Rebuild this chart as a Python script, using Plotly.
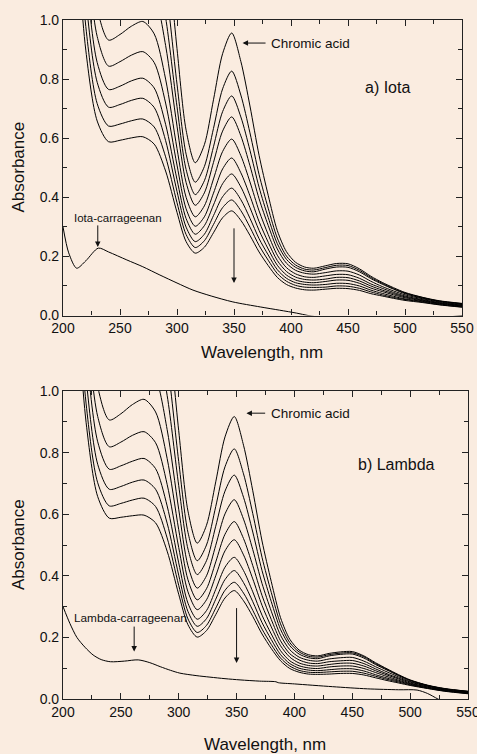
import plotly.graph_objects as go

# Wavelength grid (nm) for the chromic acid series
W = [200, 210, 220, 230, 240, 250, 260, 270, 280, 290, 300, 308, 316, 324, 332, 340, 348,
     356, 364, 372, 380, 388, 396, 404, 412, 420, 430, 440, 450, 460, 470, 480, 490, 500,
     515, 530, 550]

# Panel a) Iota: chromic acid spectra (top = chromic acid alone)
a1 = [4.5, 3.58, 2.32, 1.70, 1.52, 1.55, 1.595, 1.62, 1.551, 1.295, 0.903, 0.627, 0.517, 0.578, 0.730, 0.886, 0.956, 0.860, 0.709, 0.542, 0.407, 0.287, 0.216, 0.180, 0.164, 0.160, 0.168, 0.176, 0.175, 0.158, 0.133, 0.112, 0.094, 0.078, 0.062, 0.050, 0.041]
a2 = [4.0, 3.11, 2.01, 1.48, 1.32, 1.344, 1.38, 1.40, 1.340, 1.120, 0.783, 0.546, 0.451, 0.504, 0.633, 0.767, 0.827, 0.746, 0.618, 0.477, 0.363, 0.262, 0.201, 0.171, 0.157, 0.154, 0.162, 0.170, 0.169, 0.153, 0.129, 0.109, 0.091, 0.076, 0.061, 0.049, 0.040]
a3 = [3.6, 2.81, 1.82, 1.33, 1.19, 1.211, 1.243, 1.26, 1.206, 1.009, 0.707, 0.494, 0.409, 0.456, 0.571, 0.690, 0.743, 0.672, 0.559, 0.434, 0.332, 0.243, 0.190, 0.163, 0.151, 0.148, 0.157, 0.164, 0.163, 0.148, 0.125, 0.106, 0.089, 0.074, 0.059, 0.048, 0.039]
a4 = [3.3, 2.52, 1.63, 1.20, 1.07, 1.091, 1.123, 1.14, 1.092, 0.914, 0.641, 0.450, 0.373, 0.415, 0.518, 0.624, 0.672, 0.608, 0.507, 0.395, 0.305, 0.225, 0.177, 0.153, 0.143, 0.140, 0.145, 0.151, 0.150, 0.137, 0.116, 0.098, 0.083, 0.070, 0.057, 0.046, 0.037]
a5 = [3.0, 2.20, 1.42, 1.04, 0.932, 0.951, 0.979, 0.995, 0.953, 0.800, 0.565, 0.400, 0.334, 0.371, 0.462, 0.555, 0.597, 0.541, 0.452, 0.354, 0.274, 0.204, 0.162, 0.141, 0.131, 0.129, 0.134, 0.139, 0.138, 0.126, 0.107, 0.092, 0.078, 0.066, 0.054, 0.044, 0.035]
a6 = [2.8, 1.99, 1.29, 0.944, 0.844, 0.859, 0.881, 0.893, 0.856, 0.719, 0.509, 0.361, 0.302, 0.334, 0.414, 0.496, 0.533, 0.483, 0.405, 0.318, 0.248, 0.186, 0.149, 0.130, 0.122, 0.120, 0.123, 0.129, 0.128, 0.117, 0.100, 0.086, 0.074, 0.063, 0.052, 0.042, 0.034]
a7 = [2.6, 1.80, 1.17, 0.856, 0.765, 0.776, 0.794, 0.803, 0.770, 0.647, 0.460, 0.328, 0.275, 0.304, 0.374, 0.446, 0.479, 0.435, 0.365, 0.288, 0.225, 0.170, 0.137, 0.120, 0.113, 0.111, 0.115, 0.120, 0.119, 0.109, 0.093, 0.081, 0.070, 0.060, 0.050, 0.041, 0.032]
a8 = [2.4, 1.66, 1.075, 0.789, 0.705, 0.714, 0.728, 0.735, 0.704, 0.592, 0.420, 0.299, 0.250, 0.275, 0.338, 0.402, 0.431, 0.392, 0.329, 0.260, 0.205, 0.155, 0.126, 0.111, 0.105, 0.103, 0.105, 0.109, 0.108, 0.100, 0.086, 0.075, 0.065, 0.056, 0.048, 0.039, 0.031]
a9 = [2.2, 1.51, 0.978, 0.717, 0.641, 0.648, 0.659, 0.665, 0.638, 0.537, 0.382, 0.274, 0.230, 0.253, 0.308, 0.365, 0.391, 0.355, 0.299, 0.237, 0.187, 0.142, 0.116, 0.102, 0.096, 0.095, 0.096, 0.100, 0.099, 0.092, 0.080, 0.070, 0.061, 0.054, 0.046, 0.037, 0.029]
a10 = [2.0, 1.39, 0.898, 0.658, 0.588, 0.593, 0.601, 0.605, 0.580, 0.489, 0.349, 0.250, 0.211, 0.231, 0.280, 0.331, 0.354, 0.322, 0.271, 0.215, 0.169, 0.129, 0.105, 0.093, 0.087, 0.086, 0.089, 0.092, 0.091, 0.085, 0.074, 0.066, 0.058, 0.051, 0.044, 0.036, 0.028]

# Panel b) Lambda
b1 = [4.4, 3.45, 2.23, 1.63, 1.46, 1.487, 1.528, 1.55, 1.484, 1.242, 0.871, 0.610, 0.506, 0.564, 0.705, 0.851, 0.917, 0.824, 0.676, 0.513, 0.381, 0.264, 0.194, 0.159, 0.144, 0.140, 0.148, 0.153, 0.154, 0.140, 0.118, 0.098, 0.079, 0.062, 0.045, 0.034, 0.025]
b2 = [3.9, 3.07, 1.985, 1.455, 1.30, 1.321, 1.353, 1.37, 1.312, 1.098, 0.771, 0.541, 0.449, 0.500, 0.625, 0.754, 0.812, 0.731, 0.602, 0.460, 0.346, 0.244, 0.183, 0.153, 0.139, 0.136, 0.144, 0.149, 0.150, 0.137, 0.115, 0.096, 0.077, 0.061, 0.044, 0.033, 0.025]
b3 = [3.5, 2.74, 1.77, 1.30, 1.16, 1.181, 1.213, 1.23, 1.178, 0.986, 0.693, 0.487, 0.404, 0.449, 0.561, 0.675, 0.727, 0.655, 0.542, 0.417, 0.316, 0.226, 0.173, 0.146, 0.134, 0.131, 0.140, 0.145, 0.146, 0.133, 0.112, 0.094, 0.076, 0.060, 0.044, 0.033, 0.024]
b4 = [3.2, 2.43, 1.574, 1.153, 1.03, 1.048, 1.075, 1.09, 1.044, 0.875, 0.616, 0.433, 0.360, 0.400, 0.499, 0.601, 0.647, 0.584, 0.485, 0.375, 0.285, 0.207, 0.160, 0.136, 0.126, 0.123, 0.130, 0.134, 0.135, 0.123, 0.105, 0.088, 0.072, 0.057, 0.042, 0.032, 0.023]
b5 = [2.9, 2.14, 1.384, 1.014, 0.906, 0.926, 0.956, 0.973, 0.932, 0.781, 0.550, 0.387, 0.322, 0.358, 0.445, 0.535, 0.576, 0.521, 0.433, 0.336, 0.258, 0.189, 0.147, 0.127, 0.117, 0.115, 0.121, 0.124, 0.125, 0.115, 0.098, 0.082, 0.068, 0.055, 0.041, 0.030, 0.022]
b6 = [2.7, 1.935, 1.251, 0.917, 0.819, 0.834, 0.856, 0.868, 0.832, 0.697, 0.492, 0.348, 0.290, 0.322, 0.400, 0.481, 0.517, 0.468, 0.390, 0.304, 0.234, 0.173, 0.136, 0.117, 0.109, 0.107, 0.112, 0.116, 0.116, 0.107, 0.092, 0.078, 0.065, 0.052, 0.039, 0.029, 0.021]
b7 = [2.5, 1.763, 1.14, 0.835, 0.746, 0.757, 0.772, 0.781, 0.748, 0.627, 0.442, 0.311, 0.259, 0.287, 0.356, 0.428, 0.460, 0.417, 0.348, 0.272, 0.211, 0.157, 0.124, 0.108, 0.101, 0.099, 0.104, 0.107, 0.107, 0.099, 0.086, 0.073, 0.061, 0.050, 0.038, 0.028, 0.020]
b8 = [2.3, 1.609, 1.041, 0.762, 0.681, 0.690, 0.704, 0.711, 0.681, 0.571, 0.402, 0.284, 0.236, 0.261, 0.324, 0.388, 0.417, 0.378, 0.316, 0.248, 0.193, 0.144, 0.115, 0.100, 0.094, 0.092, 0.095, 0.098, 0.098, 0.091, 0.079, 0.068, 0.058, 0.048, 0.036, 0.027, 0.019]
b9 = [2.1, 1.481, 0.958, 0.702, 0.627, 0.635, 0.646, 0.652, 0.625, 0.523, 0.369, 0.260, 0.216, 0.239, 0.295, 0.353, 0.379, 0.344, 0.288, 0.227, 0.177, 0.133, 0.107, 0.093, 0.087, 0.086, 0.088, 0.090, 0.090, 0.084, 0.074, 0.064, 0.055, 0.046, 0.035, 0.026, 0.018]
b10 = [1.95, 1.387, 0.897, 0.657, 0.587, 0.590, 0.595, 0.597, 0.572, 0.480, 0.340, 0.241, 0.201, 0.222, 0.274, 0.328, 0.352, 0.319, 0.268, 0.211, 0.164, 0.124, 0.099, 0.087, 0.081, 0.080, 0.081, 0.083, 0.083, 0.078, 0.069, 0.060, 0.052, 0.044, 0.034, 0.025, 0.017]

# Carrageenan blanks
W_iota = [200, 205, 212, 220, 231, 240, 256, 270, 285, 300, 314, 330, 349, 373, 390, 405, 415, 430, 460, 500, 530, 550]
iota = [0.300, 0.212, 0.160, 0.185, 0.228, 0.215, 0.188, 0.165, 0.137, 0.110, 0.086, 0.066, 0.046, 0.029, 0.018, 0.008, 0.000, -0.008, -0.015, -0.015, -0.008, 0.0]
W_lambda = [200, 206, 212, 219, 226, 233, 241, 253, 265, 275, 284, 293, 301, 315, 327, 340, 353, 370, 384, 386, 400, 433, 463, 490, 506, 515, 524, 535]
lam = [0.300, 0.245, 0.200, 0.168, 0.143, 0.128, 0.121, 0.123, 0.127, 0.118, 0.105, 0.093, 0.084, 0.076, 0.071, 0.066, 0.062, 0.058, 0.056, 0.053, 0.049, 0.040, 0.033, 0.030, 0.029, 0.018, 0.0, -0.02]

x_ticks = [200, 250, 300, 350, 400, 450, 500, 550]
y_ticks = [0.0, 0.2, 0.4, 0.6, 0.8, 1.0]

BG = '#FAECE0'
FONT = 'Arial, Liberation Sans, sans-serif'

fig = go.Figure()
line = dict(color='black', width=1, shape='spline', smoothing=0.8)
for ys in [a1, a2, a3, a4, a5, a6, a7, a8, a9, a10]:
    fig.add_trace(go.Scatter(x=W, y=ys, mode='lines', line=line, xaxis='x', yaxis='y',
                             showlegend=False, hoverinfo='skip'))
fig.add_trace(go.Scatter(x=W_iota, y=iota, mode='lines', line=line, xaxis='x', yaxis='y',
                         showlegend=False, hoverinfo='skip'))
for ys in [b1, b2, b3, b4, b5, b6, b7, b8, b9, b10]:
    fig.add_trace(go.Scatter(x=W, y=ys, mode='lines', line=line, xaxis='x2', yaxis='y2',
                             showlegend=False, hoverinfo='skip'))
fig.add_trace(go.Scatter(x=W_lambda, y=lam, mode='lines', line=line, xaxis='x2', yaxis='y2',
                         showlegend=False, hoverinfo='skip'))

def xax(domain, anchor):
    return dict(domain=domain, anchor=anchor, range=[200, 550], tickvals=x_ticks,
                ticks='inside', ticklen=6, tickwidth=1, tickcolor='#222',
                showline=True, linecolor='#222', linewidth=1.2, mirror='ticks',
                minor=dict(dtick=25, tick0=200, ticks='inside', ticklen=4, tickcolor='#222'),
                showgrid=False, zeroline=False, automargin=False,
                ticklabeloverflow='allow',
                tickfont=dict(family=FONT, size=14, color='#111'))

def yax(domain, anchor):
    return dict(domain=domain, anchor=anchor, range=[0, 1.0], tickvals=y_ticks,
                tickformat='.1f', ticks='inside', ticklen=6, tickwidth=1, tickcolor='#222',
                showline=True, linecolor='#222', linewidth=1.2, mirror='ticks',
                minor=dict(dtick=0.1, tick0=0, ticks='inside', ticklen=4, tickcolor='#222'),
                showgrid=False, zeroline=False, automargin=False,
                ticklabeloverflow='allow',
                tickfont=dict(family=FONT, size=14, color='#111'))

H = 679.0
def py(ypx):
    return (699 - ypx) / H

fig.update_layout(
    width=477, height=754,
    margin=dict(l=63, r=9, t=20, b=55, autoexpand=False),
    paper_bgcolor=BG, plot_bgcolor=BG,
    xaxis=xax([0, 399/405], 'y'),
    yaxis=yax([py(315.5), 1.0], 'x'),
    xaxis2=xax([0, 1], 'y2'),
    yaxis2=yax([0, py(391)], 'x2'),
    font=dict(family=FONT, color='#111'),
)

ann = []
def arrow(xr, yr, x, y, ax, ay):
    ann.append(dict(xref=xr, yref=yr, axref=xr, ayref=yr, x=x, y=y, ax=ax, ay=ay,
                    text='', showarrow=True, arrowhead=2, arrowsize=1.1, arrowwidth=1,
                    arrowcolor='#111', standoff=0, startstandoff=0))

def label(xr, yr, x, y, txt, size, xanchor='left'):
    ann.append(dict(xref=xr, yref=yr, x=x, y=y, text=txt, showarrow=False,
                    xanchor=xanchor, yanchor='middle',
                    font=dict(family=FONT, size=size, color='#111')))

# Panel a annotations
arrow('x', 'y', 357.5, 0.922, 379, 0.922)
label('x', 'y', 380.5, 0.922, 'Chromic acid', 13.5)
label('x', 'y', 485, 0.77, 'a) Iota', 16, 'center')
arrow('x', 'y', 350, 0.11, 350, 0.30)
label('x', 'y', 248, 0.33, 'Iota-carrageenan', 11.5, 'center')
arrow('x', 'y', 230.5, 0.232, 230.5, 0.31)

# Panel b annotations
arrow('x2', 'y2', 358.5, 0.928, 376, 0.928)
label('x2', 'y2', 378, 0.928, 'Chromic acid', 13.5)
label('x2', 'y2', 488, 0.76, 'b) Lambda', 16, 'center')
arrow('x2', 'y2', 350, 0.117, 350, 0.30)
label('x2', 'y2', 258, 0.263, 'Lambda-carrageenan', 11.8, 'center')
arrow('x2', 'y2', 261.5, 0.154, 261.5, 0.24)

# Axis titles
for yc in [py(167.5), py(545)]:
    ann.append(dict(xref='paper', yref='paper', x=(18 - 63) / 405, y=yc, text='Absorbance',
                    textangle=-90, showarrow=False, xanchor='center', yanchor='middle',
                    font=dict(family=FONT, size=17, color='#111')))
ann.append(dict(xref='paper', yref='paper', x=(262 - 63) / 405, y=py(352), text='Wavelength, nm',
                showarrow=False, xanchor='center', yanchor='middle',
                font=dict(family=FONT, size=17, color='#111')))
ann.append(dict(xref='paper', yref='paper', x=(265 - 63) / 405, y=py(744), text='Wavelength, nm',
                showarrow=False, xanchor='center', yanchor='middle',
                font=dict(family=FONT, size=17, color='#111')))

fig.update_layout(annotations=ann)
fig.write_html('out.html')
